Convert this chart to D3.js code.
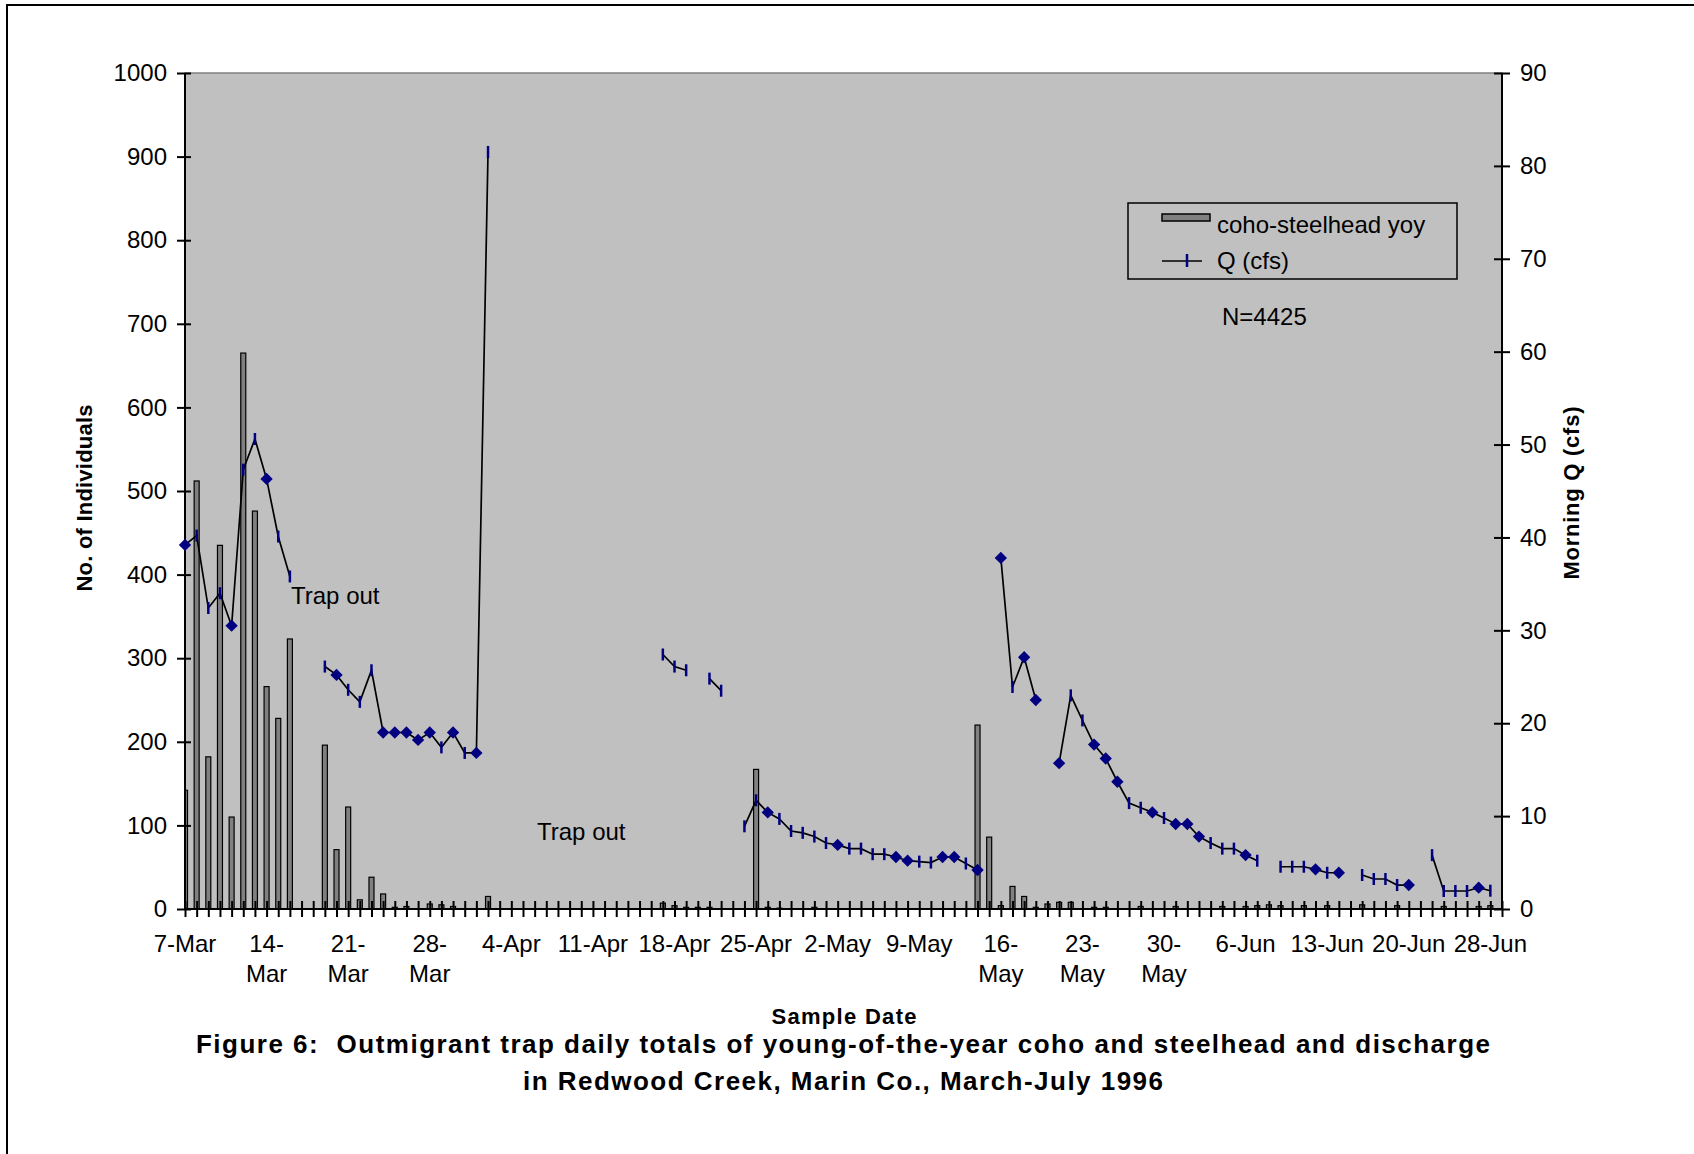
<!DOCTYPE html>
<html>
<head>
  <meta charset="utf-8">
  <title>Figure 6</title>
  <script src="https://cdn.jsdelivr.net/npm/d3@7"></script>
  <style>
    body { margin: 0; background: #fff; }
    text { font-family: "Liberation Sans", Arial, sans-serif; fill: #000; }
  </style>
</head>
<body>
<script>
  // categories: one per sample day (one day between 20-Jun and 28-Jun has no column)
  var firstDay = "1996-03-07";
  var lastDay = "1996-06-29";
  var skippedDays = ["1996-06-24"];

  // labels shown every 7th category
  var tickLabels = [
    ["7-Mar"], ["14-", "Mar"], ["21-", "Mar"], ["28-", "Mar"], ["4-Apr"], ["11-Apr"],
    ["18-Apr"], ["25-Apr"], ["2-May"], ["9-May"], ["16-", "May"], ["23-", "May"],
    ["30-", "May"], ["6-Jun"], ["13-Jun"], ["20-Jun"], ["28-Jun"]
  ];

  // coho-steelhead yoy daily totals
  var fishCounts = [
    142, 512, 182, 435, 110, 665, 476, 266, 228, 323,
    0, 0, 196, 71, 122, 11, 38, 18, 2, 3,
    0, 6, 5, 3, 0, 0, 15, 0, 0, 0,
    0, 0, 0, 0, 0, 0, 0, 0, 0, 0,
    0, 7, 4, 2, 2, 2, 0, 0, 0, 167,
    2, 1, 0, 0, 2, 0, 0, 0, 0, 0,
    0, 0, 0, 0, 0, 0, 0, 0, 220, 86,
    4, 27, 15, 2, 6, 8, 8, 0, 2, 2,
    0, 0, 3, 0, 0, 3, 0, 0, 0, 3,
    0, 3, 4, 5, 4, 0, 4, 0, 4, 0,
    0, 5, 0, 0, 4, 0, 0, 0, 3, 0,
    0, 3, 4, 0
  ];

  // morning discharge Q (cfs), null = no reading
  var qCfs = [
    39.2, 40.2, 32.4, 34.0, 30.5, 47.3, 50.6, 46.3, 40.1, 35.8,
    null, null, 26.1, 25.2, 23.6, 22.3, 25.7, 19.0, 19.0, 19.0,
    18.2, 19.0, 17.4, 19.0, 16.8, 16.8, 81.5, null, null, null,
    null, null, null, null, null, null, null, null, null, null,
    null, 27.4, 26.1, 25.7, null, 24.8, 23.5, null, 8.9, 11.7,
    10.4, 9.7, 8.4, 8.2, 7.8, 7.1, 6.9, 6.5, 6.5, 5.9,
    5.9, 5.6, 5.2, 5.1, 5.0, 5.6, 5.6, 4.9, 4.2, null,
    37.8, 23.9, 27.1, 22.5, null, 15.7, 23.0, 20.3, 17.7, 16.2,
    13.7, 11.4, 10.9, 10.4, 9.8, 9.15, 9.15, 7.8, 7.1, 6.5,
    6.5, 5.8, 5.2, null, 4.55, 4.55, 4.55, 4.27, 3.9, 3.9,
    null, 3.66, 3.23, 3.23, 2.58, 2.58, null, 5.8, 1.94, 1.94,
    1.94, 2.3, 1.97, null
  ];

  // points drawn with a diamond marker (all others use the dash marker)
  var diamondIdx = [0, 4, 7, 13, 17, 18, 19, 20, 21, 23, 25, 50, 56, 61, 62, 65, 66, 68,
    70, 72, 73, 75, 78, 79, 80, 83, 85, 86, 87, 91, 97, 99, 105, 111];

  var leftTicks = d3.range(0, 1001, 100);
  var rightTicks = d3.range(0, 91, 10);

  var width = 1694, height = 1154;
  var plot = { left: 185, right: 1502, top: 73, bottom: 909 };
  var navy = "#000080";
  var fs = "24px";

  var parse = d3.timeParse("%Y-%m-%d");
  var skip = skippedDays.map(function(s) { return +parse(s); });
  var days = d3.timeDay.range(parse(firstDay), d3.timeDay.offset(parse(lastDay), 1))
    .filter(function(d) { return skip.indexOf(+d) < 0; });
  var idx = d3.range(days.length);

  var svg = d3.select("body").append("svg").attr("width", width).attr("height", height);

  // outer frame
  svg.append("rect").attr("x", 7).attr("y", 5).attr("width", width + 20).attr("height", height + 20)
    .attr("fill", "none").attr("stroke", "#000").attr("stroke-width", 2);

  var x = d3.scalePoint().domain(idx).range([plot.left, plot.right]);
  var yL = d3.scaleLinear().domain([0, 1000]).range([plot.bottom, plot.top]);
  var yR = d3.scaleLinear().domain([0, 90]).range([plot.bottom, plot.top]);

  // plot area
  svg.append("rect")
    .attr("x", plot.left).attr("y", plot.top)
    .attr("width", plot.right - plot.left).attr("height", plot.bottom - plot.top)
    .attr("fill", "#c0c0c0").attr("stroke", "#808080").attr("stroke-width", 1.5);

  svg.append("clipPath").attr("id", "clip").append("rect")
    .attr("x", plot.left).attr("y", plot.top)
    .attr("width", plot.right - plot.left).attr("height", plot.bottom - plot.top);

  // bars
  svg.append("g").attr("clip-path", "url(#clip)")
    .selectAll("rect")
    .data(idx.filter(function(i) { return fishCounts[i] > 0; }))
    .enter().append("rect")
    .attr("x", function(i) { return x(i) - 2.5; })
    .attr("y", function(i) { return yL(fishCounts[i]); })
    .attr("width", 5)
    .attr("height", function(i) { return yL(0) - yL(fishCounts[i]); })
    .attr("fill", "#808080")
    .attr("stroke", "#000")
    .attr("stroke-width", 1.2);

  // axes
  var axL = svg.append("g").attr("transform", "translate(" + plot.left + ",0)")
    .call(d3.axisLeft(yL).tickValues(leftTicks).tickFormat(d3.format("d")).tickSize(8).tickPadding(10));
  axL.selectAll(".tick line").attr("x2", -8).attr("x1", 6);

  var axR = svg.append("g").attr("transform", "translate(" + plot.right + ",0)")
    .call(d3.axisRight(yR).tickValues(rightTicks).tickFormat(d3.format("d")).tickSize(8).tickPadding(10));
  axR.selectAll(".tick line").attr("x1", -8).attr("x2", 8);

  var axB = svg.append("g").attr("transform", "translate(0," + plot.bottom + ")")
    .call(d3.axisBottom(x).tickSize(8).tickFormat(""));
  axB.selectAll(".tick line").attr("y1", -8).attr("y2", 8);

  [axL, axR, axB].forEach(function(a) {
    a.select(".domain").attr("stroke", "#000").attr("stroke-width", 2);
    a.selectAll(".tick line").attr("stroke", "#000").attr("stroke-width", 2);
    a.selectAll("text").attr("font-size", fs).attr("font-family", "Liberation Sans, Arial, sans-serif").attr("fill", "#000");
  });
  axL.select(".domain").attr("d", "M0," + plot.bottom + "V" + plot.top);
  axR.select(".domain").attr("d", "M0," + plot.bottom + "V" + plot.top);
  axB.select(".domain").attr("d", "M" + plot.left + ",0H" + plot.right);

  // category labels, every 7th
  var lab = svg.append("g").selectAll("text")
    .data(tickLabels)
    .enter().append("text")
    .attr("text-anchor", "middle")
    .attr("font-size", fs)
    .attr("x", function(d, k) { return x(k * 7); })
    .attr("y", 952);
  lab.selectAll("tspan")
    .data(function(d) { return d; })
    .enter().append("tspan")
    .attr("x", function() { return d3.select(this.parentNode).attr("x"); })
    .attr("dy", function(d, j) { return j === 0 ? 0 : 30; })
    .text(function(d) { return d; });

  // Q line
  var line = d3.line()
    .defined(function(i) { return qCfs[i] != null; })
    .x(function(i) { return x(i); })
    .y(function(i) { return yR(qCfs[i]); });

  svg.append("path")
    .datum(idx)
    .attr("fill", "none")
    .attr("stroke", "#000")
    .attr("stroke-width", 1.7)
    .attr("d", line);

  var pts = idx.filter(function(i) { return qCfs[i] != null; });
  var diamondSym = d3.symbol().type(d3.symbolSquare).size(76);

  svg.append("g").selectAll("line")
    .data(pts.filter(function(i) { return diamondIdx.indexOf(i) < 0; }))
    .enter().append("line")
    .attr("x1", function(i) { return x(i); })
    .attr("x2", function(i) { return x(i); })
    .attr("y1", function(i) { return yR(qCfs[i]) - 6; })
    .attr("y2", function(i) { return yR(qCfs[i]) + 6; })
    .attr("stroke", navy)
    .attr("stroke-width", 2.5);

  svg.append("g").selectAll("path")
    .data(pts.filter(function(i) { return diamondIdx.indexOf(i) >= 0; }))
    .enter().append("path")
    .attr("d", diamondSym)
    .attr("transform", function(i) { return "translate(" + x(i) + "," + yR(qCfs[i]) + ") rotate(45)"; })
    .attr("fill", navy);

  // notes
  svg.append("text").attr("x", 291).attr("y", 604).attr("font-size", fs).text("Trap out");
  svg.append("text").attr("x", 537).attr("y", 840).attr("font-size", fs).text("Trap out");
  svg.append("text").attr("x", 1222).attr("y", 325).attr("font-size", fs).text("N=4425");

  // legend
  var lg = svg.append("g");
  lg.append("rect").attr("x", 1128).attr("y", 203).attr("width", 329).attr("height", 76)
    .attr("fill", "#c0c0c0").attr("stroke", "#000").attr("stroke-width", 1.5);
  lg.append("rect").attr("x", 1162).attr("y", 214).attr("width", 48).attr("height", 7)
    .attr("fill", "#808080").attr("stroke", "#000").attr("stroke-width", 1.5);
  lg.append("text").attr("x", 1217).attr("y", 233).attr("font-size", fs).text("coho-steelhead yoy");
  lg.append("line").attr("x1", 1162).attr("x2", 1202).attr("y1", 261).attr("y2", 261)
    .attr("stroke", "#000").attr("stroke-width", 1.7);
  lg.append("line").attr("x1", 1187).attr("x2", 1187).attr("y1", 254).attr("y2", 267)
    .attr("stroke", navy).attr("stroke-width", 2.5);
  lg.append("text").attr("x", 1217).attr("y", 269).attr("font-size", fs).text("Q (cfs)");

  // axis titles
  svg.append("text")
    .attr("transform", "translate(92,498) rotate(-90)")
    .attr("text-anchor", "middle").attr("font-size", "22px").attr("font-weight", "bold")
    .attr("textLength", 187).attr("lengthAdjust", "spacing")
    .text("No. of Individuals");
  svg.append("text")
    .attr("transform", "translate(1579,493) rotate(-90)")
    .attr("text-anchor", "middle").attr("font-size", "22px").attr("font-weight", "bold")
    .attr("textLength", 173).attr("lengthAdjust", "spacing")
    .text("Morning Q (cfs)");
  svg.append("text")
    .attr("x", 844).attr("y", 1024)
    .attr("text-anchor", "middle").attr("font-size", "22px").attr("font-weight", "bold")
    .attr("textLength", 145).attr("lengthAdjust", "spacing")
    .text("Sample Date");

  // caption
  svg.append("text")
    .attr("x", 843).attr("y", 1053)
    .attr("text-anchor", "middle").attr("font-size", "26px").attr("font-weight", "bold")
    .attr("textLength", 1294).attr("lengthAdjust", "spacing")
    .style("white-space", "pre")
    .text("Figure 6:  Outmigrant trap daily totals of young-of-the-year coho and steelhead and discharge");
  svg.append("text")
    .attr("x", 843).attr("y", 1090)
    .attr("text-anchor", "middle").attr("font-size", "26px").attr("font-weight", "bold")
    .attr("textLength", 640).attr("lengthAdjust", "spacing")
    .text("in Redwood Creek, Marin Co., March-July 1996");
</script>
</body>
</html>
